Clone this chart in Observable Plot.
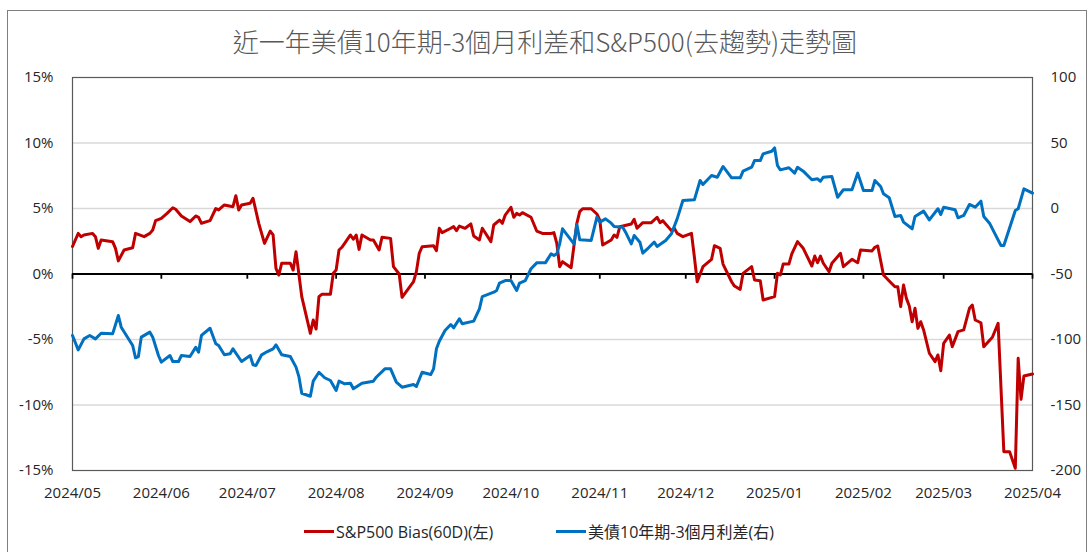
<!DOCTYPE html>
<html><head><meta charset="utf-8">
<script src="https://cdn.jsdelivr.net/npm/d3@7"></script>
<script src="https://cdn.jsdelivr.net/npm/@observablehq/plot@0.6"></script>
<style>
body{margin:0;background:#fff;}
#wrap{position:relative;width:1090px;height:552px;overflow:hidden;}
#border{position:absolute;left:7px;top:10px;width:1078px;height:580px;border:1px solid #7f7f7f;}
#title{position:absolute;left:0;width:1090px;top:21px;text-align:center;font-family:"Noto Sans CJK TC",sans-serif;font-size:26px;font-weight:300;color:#595959;line-height:40px;white-space:nowrap;}
#chart{position:absolute;left:0;top:62px;}
.leg{position:absolute;top:519px;height:24px;display:flex;align-items:center;font-family:"Open Sans","Noto Sans CJK TC",sans-serif;font-size:16px;color:#262626;white-space:nowrap;}
.sw{width:30px;height:3px;margin-right:2px;}
</style></head>
<body><div id="wrap"><div id="border"></div><div id="title"></div><div id="chart"></div>
<div class="leg" id="leg1" style="left:304px"><span class="sw" style="background:#C00000"></span><span id="l1"></span></div>
<div class="leg" id="leg2" style="left:556px"><span class="sw" style="background:#0070C0"></span><span id="l2"></span></div>
</div>
<script>
const titleText = "近一年美債10年期-3個月利差和S&P500(去趨勢)走勢圖";
const seriesNames = ["S&P500 Bias(60D)(左)", "美債10年期-3個月利差(右)"];
const monthLabels = ["2024/05","2024/06","2024/07","2024/08","2024/09","2024/10","2024/11","2024/12","2025/01","2025/02","2025/03","2025/04"];
const leftTicks = [-15,-10,-5,0,5,10,15];
const rightTicks = [-200,-150,-100,-50,0,50,100];

const biasDates = ["2024-05-01","2024-05-03","2024-05-04","2024-05-05","2024-05-08","2024-05-09","2024-05-10","2024-05-11","2024-05-15","2024-05-16","2024-05-17","2024-05-19","2024-05-22","2024-05-23","2024-05-26","2024-05-28","2024-05-29","2024-05-30",
"2024-06-01","2024-06-03","2024-06-05","2024-06-06","2024-06-08","2024-06-11","2024-06-13","2024-06-14","2024-06-15","2024-06-18","2024-06-20","2024-06-21","2024-06-23","2024-06-26","2024-06-27","2024-06-28","2024-06-29",
"2024-07-02","2024-07-03","2024-07-05","2024-07-07","2024-07-09","2024-07-10","2024-07-11","2024-07-12","2024-07-13","2024-07-16","2024-07-17","2024-07-18","2024-07-20","2024-07-23","2024-07-24","2024-07-25","2024-07-26","2024-07-27","2024-07-30","2024-07-31",
"2024-08-01","2024-08-02","2024-08-03","2024-08-06","2024-08-07","2024-08-08","2024-08-09","2024-08-10","2024-08-13","2024-08-14","2024-08-16","2024-08-17","2024-08-20","2024-08-21","2024-08-23","2024-08-24","2024-08-28","2024-08-29","2024-08-30","2024-08-31",
"2024-09-04","2024-09-05","2024-09-06","2024-09-07","2024-09-10","2024-09-11","2024-09-12","2024-09-13","2024-09-15","2024-09-17","2024-09-18","2024-09-20","2024-09-21","2024-09-24","2024-09-25","2024-09-27","2024-09-28","2024-09-29",
"2024-10-01","2024-10-02","2024-10-03","2024-10-04","2024-10-05","2024-10-08","2024-10-10","2024-10-12","2024-10-15","2024-10-16","2024-10-17","2024-10-18","2024-10-19","2024-10-22","2024-10-24","2024-10-25","2024-10-26","2024-10-29","2024-10-31",
"2024-11-01","2024-11-02","2024-11-05","2024-11-06","2024-11-07","2024-11-08","2024-11-12","2024-11-13","2024-11-14","2024-11-16","2024-11-19","2024-11-21","2024-11-22","2024-11-23","2024-11-26","2024-11-27","2024-11-28","2024-11-30",
"2024-12-03","2024-12-04","2024-12-05","2024-12-07","2024-12-10","2024-12-11","2024-12-13","2024-12-14","2024-12-17","2024-12-18","2024-12-20","2024-12-21","2024-12-24","2024-12-25","2024-12-27","2024-12-28",
"2025-01-01","2025-01-02","2025-01-03","2025-01-04","2025-01-06","2025-01-07","2025-01-09","2025-01-11","2025-01-14","2025-01-15","2025-01-16","2025-01-17","2025-01-18","2025-01-20","2025-01-21","2025-01-24","2025-01-25","2025-01-28","2025-01-30","2025-01-31",
"2025-02-04","2025-02-05","2025-02-06","2025-02-08","2025-02-10","2025-02-12","2025-02-13","2025-02-14","2025-02-15","2025-02-16","2025-02-17","2025-02-18","2025-02-19","2025-02-20","2025-02-21","2025-02-22","2025-02-24","2025-02-26","2025-02-27","2025-02-28",
"2025-03-01","2025-03-03","2025-03-04","2025-03-06","2025-03-08","2025-03-10","2025-03-11","2025-03-12","2025-03-14","2025-03-15","2025-03-18","2025-03-20","2025-03-22","2025-03-24","2025-03-26","2025-03-27","2025-03-28","2025-03-29","2025-04-01"];
const biasValues = [2.1,3.1,2.85,2.98,3.1,2.85,1.96,2.6,2.47,1.96,1.0,1.83,2.0,3.1,2.85,3.1,3.36,4.07,
4.25,4.63,5.06,4.94,4.43,4.0,4.43,4.33,3.87,4.07,5.0,4.89,5.27,5.14,5.98,4.89,5.27,
5.4,5.78,3.87,2.34,3.28,2.98,0.43,-0.08,0.82,0.82,0.3,1.7,-1.73,-4.53,-3.51,-4.2,-1.73,-1.55,-1.55,0.05,
0.3,1.83,2.04,2.98,2.65,2.98,1.88,2.98,2.6,2.6,1.83,2.8,2.72,0.56,0.0,-1.78,-0.59,0.18,1.58,2.08,
2.16,1.78,3.49,3.16,3.49,3.62,3.31,3.66,3.49,3.82,2.9,2.6,3.49,2.47,3.74,4.12,3.87,4.5,
5.09,4.33,4.63,4.5,4.68,4.33,3.28,3.1,3.1,3.16,2.34,0.56,0.94,0.48,3.87,4.76,4.98,4.98,4.58,
4.12,2.21,2.6,2.98,2.8,3.61,3.82,4.17,3.49,3.92,3.92,4.33,3.92,4.07,3.31,3.49,3.1,2.85,
3.1,1.32,-0.59,0.56,1.12,2.16,1.96,0.76,-0.59,-0.92,-1.17,0.05,0.56,-0.46,-0.51,-1.98,
-1.73,0.05,-0.08,0.76,0.76,1.53,2.47,1.96,0.61,1.37,0.86,1.37,0.82,0.18,0.82,1.58,0.56,1.12,0.86,1.83,
1.76,2.04,2.14,-0.08,-0.53,-0.97,-0.97,-2.49,-0.84,-1.86,-2.44,-3.64,-2.62,-4.15,-3.64,-4.27,-6.05,-6.69,-6.18,-7.38,
-5.29,-4.66,-5.55,-4.4,-4.27,-2.62,-2.37,-3.51,-3.72,-5.55,-4.83,-3.77,-13.56,-13.56,-14.83,-6.44,-9.57,-7.79,-7.63];

const spreadDates = ["2024-05-01","2024-05-03","2024-05-05","2024-05-07","2024-05-09","2024-05-11","2024-05-15","2024-05-17","2024-05-18","2024-05-22","2024-05-23","2024-05-24","2024-05-25","2024-05-28","2024-05-29","2024-05-31",
"2024-06-01","2024-06-04","2024-06-05","2024-06-07","2024-06-08","2024-06-11","2024-06-13","2024-06-14","2024-06-15","2024-06-18","2024-06-20","2024-06-21","2024-06-23","2024-06-25","2024-06-26","2024-06-29",
"2024-07-02","2024-07-03","2024-07-04","2024-07-06","2024-07-08","2024-07-10","2024-07-11","2024-07-13","2024-07-16","2024-07-18","2024-07-19","2024-07-20","2024-07-23","2024-07-24","2024-07-26","2024-07-28","2024-07-30",
"2024-08-01","2024-08-02","2024-08-04","2024-08-06","2024-08-07","2024-08-10","2024-08-14","2024-08-15","2024-08-18","2024-08-20","2024-08-22","2024-08-24","2024-08-28","2024-08-29","2024-08-31",
"2024-09-03","2024-09-04","2024-09-05","2024-09-06","2024-09-08","2024-09-10","2024-09-11","2024-09-13","2024-09-14","2024-09-18","2024-09-20","2024-09-21","2024-09-25","2024-09-26","2024-09-27","2024-09-29",
"2024-10-01","2024-10-03","2024-10-04","2024-10-06","2024-10-08","2024-10-10","2024-10-13","2024-10-15","2024-10-16","2024-10-17","2024-10-18","2024-10-19","2024-10-23","2024-10-24","2024-10-25","2024-10-29","2024-10-31",
"2024-11-01","2024-11-03","2024-11-05","2024-11-06","2024-11-09","2024-11-10","2024-11-12","2024-11-13","2024-11-15","2024-11-16","2024-11-18","2024-11-20","2024-11-21","2024-11-24","2024-11-26","2024-11-28","2024-11-30",
"2024-12-04","2024-12-06","2024-12-07","2024-12-10","2024-12-12","2024-12-14","2024-12-17","2024-12-20","2024-12-21","2024-12-24","2024-12-25","2024-12-27","2024-12-28","2024-12-31",
"2025-01-01","2025-01-02","2025-01-03","2025-01-06","2025-01-08","2025-01-09","2025-01-11","2025-01-14","2025-01-16","2025-01-17","2025-01-18","2025-01-21","2025-01-23","2025-01-25","2025-01-28","2025-01-30",
"2025-02-01","2025-02-04","2025-02-05","2025-02-07","2025-02-08","2025-02-10","2025-02-12","2025-02-14","2025-02-15","2025-02-18","2025-02-19","2025-02-22","2025-02-24","2025-02-27","2025-02-28",
"2025-03-01","2025-03-05","2025-03-06","2025-03-08","2025-03-10","2025-03-12","2025-03-14","2025-03-15","2025-03-17","2025-03-19","2025-03-21","2025-03-22","2025-03-26","2025-03-27","2025-03-29","2025-04-01"];
const spreadValues = [-96.9,-107.9,-99.5,-96.9,-99.5,-95.2,-95.7,-81.7,-90.6,-104.6,-114,-113,-98.2,-94.4,-98.2,-112.2,
-117.3,-112.2,-116.8,-116.8,-112.2,-113,-105.9,-109.7,-96.9,-91.4,-103.3,-104.6,-111.7,-110.9,-107.1,-116.8,
-112.2,-119.3,-119.9,-111.7,-109.2,-107.1,-104.1,-111.7,-113,-121.1,-128.3,-141,-143.3,-131.8,-125,-129.2,-131.3,
-138.9,-131.8,-133.8,-133.4,-137.6,-133.4,-131.8,-128.8,-122.4,-122.4,-132.6,-136.4,-134.4,-135.9,-125,
-126.7,-122.4,-107.1,-101.3,-93.1,-88.6,-91.1,-84.2,-88,-86,-76.6,-67.2,-63.9,-62.6,-57,-55,
-55,-62.6,-57,-55,-46,-41.5,-41.5,-34.6,-35.9,-34.6,-27,-15.5,-27,-12.2,-23.9,-24.4,-6.6,
-10.4,-7.9,-11.2,-13.7,-14.3,-18.1,-27,-20.6,-25.7,-34.1,-30,-25.7,-29,-24.4,-19.3,-7.9,6.1,
6.6,21.4,18.3,25.2,23.9,32.1,23.4,23.4,28.5,31.5,36.6,36.6,41.7,43.7,
46.3,32.8,29.5,31.1,27,31.5,28.5,21.9,22.7,20.8,23.9,24.4,8.6,14.3,14.3,27,
13.7,13.7,21.4,16.8,11.2,8.2,-6.1,-5.3,-10.4,-15.5,-6.1,-2.0,-8.7,-0.2,-4.6,
1.0,-1.0,-7.1,-5.3,3.1,1.0,5.6,-6.1,-11.2,-19.8,-28.2,-28.2,-1.5,-0.2,15,11.7];

// right axis (bp) -> left axis (%) : 100 ↔ 15%, -200 ↔ -15%
const toLeft = r => (r + 50) / 10;

const bias = biasDates.map((d, i) => ({date: new Date(d), v: biasValues[i]}));
const spread = spreadDates.map((d, i) => ({date: new Date(d), v: spreadValues[i]}));
const months = monthLabels.map(m => new Date(m.replace("/", "-") + "-01"));
const fmt = d3.utcFormat("%Y/%m");

document.getElementById("title").textContent = titleText;
document.getElementById("l1").textContent = seriesNames[0];
document.getElementById("l2").textContent = seriesNames[1];

const chart = Plot.plot({
  width: 1090, height: 450,
  marginLeft: 72, marginRight: 58, marginTop: 15, marginBottom: 42,
  style: {fontFamily: "'Open Sans', sans-serif", fontSize: "15px", color: "#262626", background: "transparent", overflow: "visible"},
  x: {type: "utc", domain: [months[0], months[months.length - 1]], label: null},
  y: {domain: [-15, 15], label: null},
  marks: [
    Plot.ruleY(leftTicks.filter(t => t !== 0 && Math.abs(t) !== 15), {stroke: "#d9d9d9", strokeWidth: 1.3}),
    Plot.frame({stroke: "#595959", strokeWidth: 1.2}),
    Plot.ruleY([0], {stroke: "#000", strokeWidth: 2}),
    Plot.ruleX(months, {x: d => d, y1: 0, y2: -0.4, stroke: "#000", strokeWidth: 1.8}),
    Plot.line(bias, {x: "date", y: "v", stroke: "#C00000", strokeWidth: 3, strokeLinejoin: "round"}),
    Plot.line(spread, {x: "date", y: d => toLeft(d.v), stroke: "#0070C0", strokeWidth: 3, strokeLinejoin: "round"}),
    Plot.axisY(leftTicks, {anchor: "left", tickSize: 0, tickPadding: 19, tickFormat: d => d + "%"}),
    Plot.axisY(rightTicks.map(toLeft), {anchor: "right", tickSize: 0, tickPadding: 18, tickFormat: d => String(Math.round(d * 10 - 50))}),
    Plot.axisX(months, {anchor: "bottom", tickSize: 0, tickPadding: 17, tickFormat: fmt})
  ]
});
document.getElementById("chart").appendChild(chart);
</script>
</body></html>
